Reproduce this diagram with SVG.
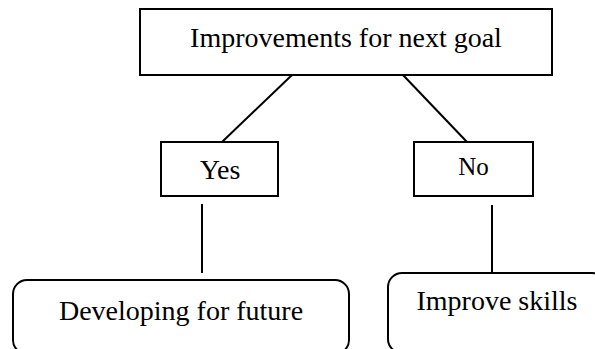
<svg xmlns="http://www.w3.org/2000/svg" width="595" height="349" viewBox="0 0 595 349">
<style>
.box{fill:#fff;stroke:#000;stroke-width:2}
.ln{stroke:#000;stroke-width:2;fill:none}
text{font-family:"Liberation Serif","Times New Roman",serif;font-size:28px;fill:#000;text-anchor:middle}
</style>
<rect width="595" height="349" fill="#fff"/>
<g id="connectors">
<line class="ln" x1="292" y1="75" x2="222" y2="142"/>
<line class="ln" x1="403" y1="75" x2="467" y2="142"/>
<line class="ln" x1="202" y1="204" x2="202" y2="273"/>
<line class="ln" x1="492" y1="205" x2="492" y2="273"/>
</g>
<g id="goal">
<rect class="box" x="140" y="9" width="412" height="66"/>
<text x="346" y="47">Improvements for next goal</text>
</g>
<g id="yes">
<rect class="box" x="161" y="142" width="117" height="54"/>
<text x="220" y="179">Yes</text>
</g>
<g id="no">
<rect class="box" x="414" y="142" width="119" height="54"/>
<text x="473.5" y="175" style="font-size:25px">No</text>
</g>
<g id="future">
<rect class="box" x="13" y="280" width="336" height="74" rx="14" ry="14"/>
<text x="181" y="320">Developing for future</text>
</g>
<g id="skills">
<rect class="box" x="388" y="273" width="218" height="80" rx="14" ry="14"/>
<text x="497" y="310">Improve skills</text>
</g>
</svg>
